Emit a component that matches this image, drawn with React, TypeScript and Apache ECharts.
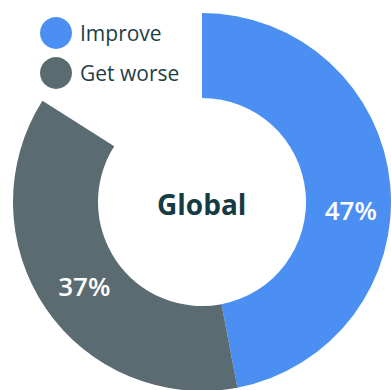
import React, { useEffect, useRef } from "react";
import * as echarts from "echarts";

const categories = ["Improve", "Get worse"];
const values = [47, 37];
const remainder = 16;
const colors = ["#4B8FF2", "#5A6B71"];
const centerLabel = "Global";

export default function App() {
  const ref = useRef<HTMLDivElement>(null);
  useEffect(() => {
    document.body.style.margin = "0";
    const chart = echarts.init(ref.current!, null, { renderer: "svg" });
    const offsets = [
      [0, 22],
      [6, 0],
    ];
    const data: any[] = categories.map((c, i) => ({
      name: c,
      value: values[i],
      itemStyle: { color: colors[i] },
      label: { offset: offsets[i] },
    }));
    data.push({
      name: "",
      value: remainder,
      itemStyle: { color: "transparent" },
      label: { show: false },
      emphasis: { disabled: true },
    });
    chart.setOption({
      animation: false,
      legend: {
        data: categories,
        orient: "vertical",
        left: 40,
        top: 17,
        padding: 0,
        icon: "circle",
        itemWidth: 32,
        itemHeight: 32,
        itemGap: 8,
        textStyle: {
          color: "#1E3E46",
          fontSize: 21,
          fontFamily: "Open Sans",
          padding: [0, 0, 4, 3],
        },
      },
      graphic: [
        {
          type: "text",
          left: 157,
          top: 190,
          style: {
            text: centerLabel,
            fontSize: 28,
            fontWeight: "bold",
            fontFamily: "Open Sans",
            fill: "#173B42",
          },
        },
      ],
      series: [
        {
          type: "pie",
          center: [202, 202],
          radius: [104, 189],
          startAngle: 90,
          clockwise: true,
          silent: true,
          avoidLabelOverlap: false,
          label: {
            show: true,
            position: "inside",
            formatter: "{c}%",
            color: "#ffffff",
            fontSize: 26,
            fontWeight: 600,
            fontFamily: "Open Sans",
          },
          labelLine: { show: false },
          data,
        },
      ],
    });
    return () => chart.dispose();
  }, []);
  return <div ref={ref} style={{ width: 391, height: 390 }} />;
}
